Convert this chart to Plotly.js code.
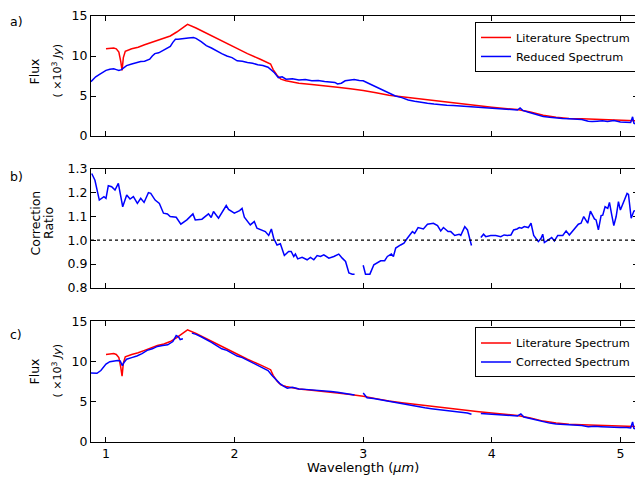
<!DOCTYPE html>
<html>
<head>
<meta charset="utf-8">
<script src="https://cdn.plot.ly/plotly-3.0.1.min.js"></script>
<style>
html,body{margin:0;padding:0;overflow:hidden;background:#fff;}
#chart{width:640px;height:484px;}
</style>
</head>
<body>
<div id="chart"></div>
<script>
// Literature spectrum (x10^3 Jy)
const litWl = [1.00,1.03,1.06,1.08,1.10,1.115,1.125,1.135,1.15,1.20,1.25,1.30,1.35,1.40,1.45,1.50,1.55,1.60,1.634,1.70,1.80,1.90,2.00,2.10,2.20,2.28,2.30,2.33,2.36,2.40,2.45,2.50,2.60,2.70,2.80,2.90,3.00,3.10,3.20,3.30,3.40,3.50,3.60,3.70,3.80,3.90,4.00,4.10,4.20,4.30,4.40,4.50,4.60,4.70,4.80,4.90,5.00,5.10,5.14];
const litFlux = [10.9,10.95,11.0,10.9,10.5,9.3,8.2,9.8,10.6,10.9,11.1,11.4,11.7,12.0,12.2,12.5,13.0,13.5,13.95,13.5,12.7,11.8,11.0,10.3,9.6,9.0,8.3,7.6,7.1,6.9,6.75,6.6,6.45,6.3,6.1,5.9,5.7,5.4,5.1,4.9,4.7,4.5,4.3,4.1,3.95,3.78,3.6,3.45,3.3,3.0,2.6,2.35,2.2,2.15,2.1,2.05,2.0,1.95,1.9];

// Reduced spectrum
const redWl = [0.883,0.90,0.92,0.95,0.98,1.00,1.03,1.06,1.08,1.10,1.12,1.14,1.16,1.20,1.24,1.27,1.30,1.34,1.36,1.38,1.41,1.44,1.47,1.50,1.52,1.54,1.56,1.60,1.64,1.68,1.70,1.74,1.78,1.82,1.86,1.90,1.94,1.98,2.02,2.06,2.10,2.14,2.18,2.22,2.26,2.29,2.31,2.34,2.37,2.40,2.45,2.50,2.55,2.60,2.65,2.70,2.75,2.78,2.80,2.83,2.86,2.89,2.93,2.97,3.00,3.04,3.08,3.12,3.16,3.20,3.25,3.30,3.35,3.40,3.45,3.50,3.55,3.60,3.65,3.70,3.75,3.80,3.85,3.90,3.95,4.00,4.05,4.10,4.15,4.20,4.22,4.24,4.28,4.32,4.36,4.40,4.45,4.50,4.55,4.60,4.65,4.70,4.75,4.78,4.82,4.86,4.90,4.95,5.00,5.04,5.08,5.095,5.105,5.12];
const redFlux = [6.8,7.1,7.4,7.7,8.0,8.2,8.35,8.4,8.3,8.2,8.3,8.6,8.8,9.0,9.2,9.3,9.35,9.6,10.0,10.3,10.4,10.7,11.0,11.2,11.7,12.1,12.1,12.2,12.25,12.3,12.2,11.8,11.3,11.0,10.6,10.3,10.0,9.8,9.4,9.35,9.2,9.1,8.9,8.8,8.6,8.2,7.9,7.3,7.4,7.1,7.15,7.0,7.05,6.9,6.95,6.8,6.75,6.7,6.5,6.6,6.9,7.0,7.05,6.95,6.9,6.6,6.3,5.9,5.6,5.3,5.0,4.8,4.5,4.35,4.2,4.1,4.0,3.9,3.85,3.8,3.75,3.7,3.65,3.6,3.55,3.5,3.45,3.4,3.35,3.25,3.5,3.2,3.0,2.8,2.6,2.45,2.35,2.25,2.2,2.15,2.1,2.05,1.85,1.8,1.85,1.9,1.8,1.95,1.75,1.7,1.7,2.4,1.6,1.5];

// Correction ratio (null = gap)
const ratioWl = [0.889,0.914,0.948,0.984,1.0,1.018,1.044,1.07,1.096,1.13,1.161,1.187,1.213,1.244,1.27,1.296,1.33,1.348,1.382,1.415,1.447,1.478,1.499,1.546,1.582,1.629,1.676,1.694,1.746,1.797,1.818,1.836,1.875,1.91,1.935,1.953,1.998,2.039,2.058,2.076,2.122,2.153,2.174,2.239,2.265,2.286,2.304,2.33,2.356,2.387,2.42,2.44,2.46,2.473,2.491,2.525,2.564,2.59,2.616,2.642,2.668,2.694,2.733,2.772,2.81,2.837,2.863,2.889,2.915,2.933,2.96,3.0,3.018,3.052,3.083,3.136,3.167,3.188,3.219,3.235,3.253,3.291,3.317,3.343,3.383,3.4,3.427,3.468,3.5,3.546,3.578,3.603,3.624,3.66,3.681,3.712,3.746,3.759,3.79,3.811,3.842,3.88,3.915,3.936,3.953,3.992,4.031,4.07,4.096,4.123,4.149,4.17,4.196,4.214,4.232,4.253,4.284,4.305,4.326,4.362,4.383,4.396,4.409,4.44,4.466,4.487,4.513,4.552,4.578,4.603,4.642,4.673,4.694,4.715,4.746,4.767,4.798,4.811,4.829,4.85,4.863,4.881,4.902,4.915,4.933,4.949,4.967,4.985,5.0,5.031,5.052,5.063,5.084,5.105,5.12];
const ratioVal = [1.279,1.251,1.168,1.182,1.175,1.228,1.224,1.21,1.238,1.14,1.189,1.172,1.182,1.154,1.175,1.158,1.199,1.196,1.168,1.154,1.113,1.11,1.099,1.096,1.067,1.085,1.11,1.085,1.088,1.11,1.095,1.12,1.092,1.12,1.145,1.129,1.113,1.124,1.133,1.096,1.064,1.078,1.05,1.036,1.02,1.047,1.008,0.98,0.985,0.936,0.953,0.953,0.932,0.942,0.922,0.928,0.918,0.928,0.918,0.936,0.932,0.939,0.925,0.932,0.942,0.925,0.911,0.863,0.858,0.858,null,0.895,0.858,0.858,0.897,0.914,0.914,0.932,0.942,0.932,0.967,0.98,0.988,1.008,1.036,1.029,1.053,1.047,1.067,1.071,1.061,1.039,1.053,1.036,1.036,1.02,1.025,1.02,1.057,1.043,0.978,null,1.011,1.025,1.015,1.02,1.02,1.015,1.022,1.02,1.022,1.043,1.047,1.053,1.05,1.057,1.053,1.071,1.02,0.994,1.008,1.025,0.99,1.001,1.011,0.997,1.02,1.02,1.039,1.022,1.047,1.067,1.071,1.099,1.071,1.122,1.089,1.085,1.043,1.103,1.105,1.14,1.133,1.158,1.105,1.061,1.099,1.161,1.126,1.164,1.196,1.192,1.092,1.122,1.124];

// Corrected spectrum (null = gap)
const corrWl = [0.883,0.91,0.93,0.96,0.98,1.00,1.03,1.06,1.09,1.11,1.127,1.14,1.16,1.20,1.24,1.28,1.32,1.36,1.40,1.44,1.48,1.52,1.546,1.564,1.577,1.598,1.63,1.668,1.70,1.74,1.78,1.82,1.86,1.90,1.94,1.98,2.02,2.06,2.10,2.14,2.18,2.22,2.26,2.29,2.32,2.35,2.38,2.41,2.45,2.50,2.55,2.60,2.65,2.70,2.75,2.80,2.85,2.90,2.933,2.96,3.0,3.03,3.08,3.13,3.18,3.23,3.28,3.33,3.38,3.43,3.48,3.53,3.58,3.63,3.68,3.73,3.78,3.81,3.842,3.88,3.915,3.95,4.0,4.05,4.1,4.15,4.2,4.226,4.25,4.3,4.35,4.4,4.45,4.5,4.55,4.6,4.65,4.7,4.75,4.8,4.85,4.9,4.95,5.0,5.05,5.08,5.095,5.105,5.12];
const corrFlux = [8.6,8.6,8.55,8.9,9.3,9.7,10.0,10.1,10.15,10.1,9.5,9.9,10.3,10.5,10.7,11.0,11.4,11.6,11.9,12.0,12.1,12.5,13.25,13.1,12.75,12.85,null,13.55,13.4,13.1,12.8,12.4,12.0,11.6,11.4,11.0,10.7,10.5,10.2,9.9,9.6,9.3,8.9,8.3,7.8,7.3,6.95,6.7,6.8,6.6,6.55,6.5,6.45,6.4,6.3,6.2,6.1,6.0,5.85,null,6.1,5.5,5.4,5.25,5.1,5.0,4.85,4.7,4.55,4.4,4.25,4.15,4.05,3.95,3.85,3.8,3.7,3.6,3.45,null,3.55,3.5,3.45,3.4,3.35,3.3,3.25,3.5,3.1,2.9,2.7,2.5,2.35,2.25,2.2,2.15,2.1,2.05,1.9,1.95,1.9,1.85,1.85,1.8,1.8,1.75,2.5,1.7,1.6];

const xTicks = [1,2,3,4,5];
const fluxTicks = [0,5,10,15];
const ratioTicks = [0.8,0.9,1.0,1.1,1.2,1.3];

const RED = '#ff0000', BLUE = '#0000ff';
const FONT = 'DejaVu Sans, sans-serif';

const traces = [
  {x: litWl, y: litFlux, xaxis:'x', yaxis:'y', mode:'lines', name:'Literature Spectrum', line:{color:RED, width:1.5}, legend:'legend'},
  {x: redWl, y: redFlux, xaxis:'x', yaxis:'y', mode:'lines', name:'Reduced Spectrum', line:{color:BLUE, width:1.5}, legend:'legend'},
  {x: ratioWl, y: ratioVal, xaxis:'x2', yaxis:'y2', mode:'lines', showlegend:false, connectgaps:false, line:{color:BLUE, width:1.5}},
  {x: litWl, y: litFlux, xaxis:'x3', yaxis:'y3', mode:'lines', name:'Literature Spectrum', line:{color:RED, width:1.5}, legend:'legend2'},
  {x: corrWl, y: corrFlux, xaxis:'x3', yaxis:'y3', mode:'lines', name:'Corrected Spectrum', connectgaps:false, line:{color:BLUE, width:1.5}, legend:'legend2'}
];

const xr = [0.8834, 5.137];
function xax(extra){
  return Object.assign({range:xr, tickvals:xTicks, ticks:'inside', ticklen:5, tickcolor:'#000', showline:true, linecolor:'#000', linewidth:1, mirror:'ticks', showgrid:false, zeroline:false, tickfont:{family:FONT, size:12.5, color:'#000'}}, extra);
}
function yax(extra){
  return Object.assign({ticks:'inside', ticklen:5, tickcolor:'#000', showline:true, linecolor:'#000', linewidth:1, mirror:'ticks', showgrid:false, zeroline:false, tickfont:{family:FONT, size:12.5, color:'#000'}}, extra);
}

const legendBase = {xref:'paper', yref:'paper', xanchor:'left', yanchor:'top', bgcolor:'#fff', bordercolor:'#000', borderwidth:1, font:{family:FONT, size:11.3, color:'#000'}, tracegroupgap:0};

const annFont = {family:FONT, size:12.5, color:'#000'};
const subFont = {family:FONT, size:11, color:'#000'};
const ann = (text, x, y, font, angle) => ({text:text, xref:'paper', yref:'paper', x:x, y:y, xanchor:'center', yanchor:'middle', textangle:angle||0, showarrow:false, font:font});
const fluxUnit = '( ×10<sup>3</sup> <i>Jy</i>)';

const layout = {
  width:640, height:484,
  margin:{l:91, r:2, t:16, b:42},
  paper_bgcolor:'#fff', plot_bgcolor:'#fff',
  showlegend:true,
  xaxis: xax({anchor:'y', showticklabels:false, matches:'x3'}),
  xaxis2: xax({anchor:'y2', showticklabels:false, matches:'x3'}),
  xaxis3: xax({anchor:'y3'}),
  yaxis: yax({domain:[0.7183,1], range:[0,15], tickvals:fluxTicks, anchor:'x'}),
  yaxis2: yax({domain:[0.3615,0.642], range:[0.8,1.3], tickvals:ratioTicks, tickformat:'.1f', anchor:'x2'}),
  yaxis3: yax({domain:[0,0.2829], range:[0,15], tickvals:fluxTicks, anchor:'x3'}),
  legend: Object.assign({x:0.702, y:0.986}, legendBase),
  legend2: Object.assign({x:0.702, y:0.269}, legendBase),
  shapes:[{type:'line', xref:'x2 domain', x0:0, x1:1, yref:'y2', y0:1, y1:1, line:{color:'#000', width:1.3, dash:'dot'}}],
  annotations:[
    ann('a)', -0.1362, 0.987, annFont),
    ann('b)', -0.1362, 0.6244, annFont),
    ann('c)', -0.1362, 0.2535, annFont),
    ann('Flux', -0.1015, 0.8709, annFont, -90),
    ann(fluxUnit, -0.0612, 0.8709, subFont, -90),
    ann('Correction', -0.1024, 0.5153, annFont, -90),
    ann('Ratio', -0.0777, 0.5153, annFont, -90),
    ann('Flux', -0.1015, 0.1667, annFont, -90),
    ann(fluxUnit, -0.0612, 0.1667, subFont, -90),
    ann('Wavelength (<i>μm</i>)', 0.497, -0.061, {family:FONT, size:13, color:'#000'})
  ]
};

Plotly.newPlot('chart', traces, layout, {displayModeBar:false, staticPlot:true});
</script>
</body>
</html>
